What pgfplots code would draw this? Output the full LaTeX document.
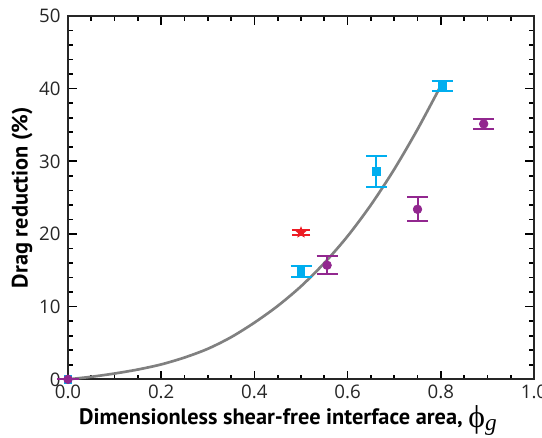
\documentclass[border=0pt]{standalone}
\usepackage{fontspec}
\setmainfont{PT Sans}
\newfontfamily\tickfont{Open Sans}
\newfontfamily\phifont{Liberation Serif}
\usepackage{pgfplots}
\pgfplotsset{compat=1.18}

\definecolor{cy}{RGB}{0,174,239}
\definecolor{pu}{RGB}{146,39,143}
\definecolor{rd}{RGB}{237,28,36}
\definecolor{cv}{RGB}{128,128,128}

% filled five-pointed star
\pgfdeclareplotmark{fstar}{%
  \pgfpathmoveto{\pgfpointpolar{90}{\pgfplotmarksize}}%
  \pgfpathlineto{\pgfpointpolar{126}{0.45\pgfplotmarksize}}%
  \pgfpathlineto{\pgfpointpolar{162}{\pgfplotmarksize}}%
  \pgfpathlineto{\pgfpointpolar{198}{0.45\pgfplotmarksize}}%
  \pgfpathlineto{\pgfpointpolar{234}{\pgfplotmarksize}}%
  \pgfpathlineto{\pgfpointpolar{270}{0.45\pgfplotmarksize}}%
  \pgfpathlineto{\pgfpointpolar{306}{\pgfplotmarksize}}%
  \pgfpathlineto{\pgfpointpolar{342}{0.45\pgfplotmarksize}}%
  \pgfpathlineto{\pgfpointpolar{18}{\pgfplotmarksize}}%
  \pgfpathlineto{\pgfpointpolar{54}{0.45\pgfplotmarksize}}%
  \pgfpathclose
  \pgfusepathqfill}

\begin{document}
\begin{tikzpicture}
\begin{axis}[
  scale only axis, width=279.6pt, height=218pt,
  xmin=0, xmax=1, ymin=0, ymax=50,
  xtick={0,0.2,...,1.0}, ytick={0,10,...,50},
  minor x tick num=3, minor y tick num=4,
  tick align=inside, xtick pos=both, ytick pos=both,
  major tick length=5.2pt, minor tick length=2.8pt,
  every tick/.style={black, line width=1pt},
  axis line style={line width=1.1pt, black!85},
  tick label style={font=\tickfont\fontsize{11.2}{13}\selectfont, black!85},
  /pgf/number format/assume math mode=true,
  xticklabel style={/pgf/number format/fixed, /pgf/number format/fixed zerofill,
    /pgf/number format/precision=1},
  yticklabel style={/pgf/number format/fixed, xshift=-1pt},
  xlabel={\bfseries Dimensionless shear-free interface area, \raisebox{-1.5pt}{{\phifont\mdseries\fontsize{19}{19}\selectfont ϕ}\raisebox{-2pt}{\phifont\mdseries\itshape\fontsize{14}{14}\selectfont g}}},
  ylabel={\bfseries Drag reduction (\%)},
  every axis x label/.style={at={(axis description cs:0.472,-0.113)}, anchor=center,
    font=\fontsize{13.4}{15}\selectfont},
  every axis y label/.style={at={(axis description cs:-0.0987,0.5)}, anchor=center,
    rotate=90, font=\fontsize{13.4}{15}\selectfont},
  clip=false,
  error bars/y dir=both, error bars/y explicit,
  error bars/error bar style={line width=1.2pt},
  error bars/error mark options={rotate=90, mark size=6.3pt, line width=1.2pt},
]
% fitted curve
\addplot[cv, line width=1.6pt, smooth, no markers] coordinates {
 (0,0) (0.05,0.35) (0.1,0.8) (0.15,1.35) (0.2,2.05) (0.25,3.0) (0.3,4.2)
 (0.35,5.8) (0.4,7.8) (0.45,10.1) (0.5,12.8) (0.55,16.0) (0.6,19.7)
 (0.65,24.0) (0.7,28.9) (0.75,34.4) (0.8,40.4)};
% cyan squares
\addplot[cy, only marks, mark=square*, mark size=2.2pt,
  error bars/error bar style={cy, line width=1.2pt}] coordinates {
 (0,0) +- (0,0)
 (0.5,14.85) +- (0,0.75)
 (0.662,28.6) +- (0,2.1)
 (0.803,40.4) +- (0,0.72)};
% purple circles
\addplot[pu, only marks, mark=*, mark size=2.6pt,
  error bars/error bar style={pu, line width=1.2pt}] coordinates {
 (0,0) +- (0,0)
 (0.556,15.7) +- (0,1.25)
 (0.750,23.4) +- (0,1.65)
 (0.892,35.15) +- (0,0.65)};
% red star
\addplot[rd, only marks, mark=fstar, mark size=3.8pt,
  error bars/error bar style={rd, line width=1pt},
  error bars/error mark options={rotate=90, mark size=5.5pt, line width=1pt}] coordinates {
 (0.5,20.2) +- (0,0.35)};
\end{axis}
\pgfresetboundingbox
\path (current axis.south west) ++(-40.8pt,-34.8pt) coordinate (bl);
\path (current axis.north east) ++(4.8pt,9.6pt) coordinate (tr);
\useasboundingbox (bl) rectangle (tr);
\end{tikzpicture}
\end{document}
